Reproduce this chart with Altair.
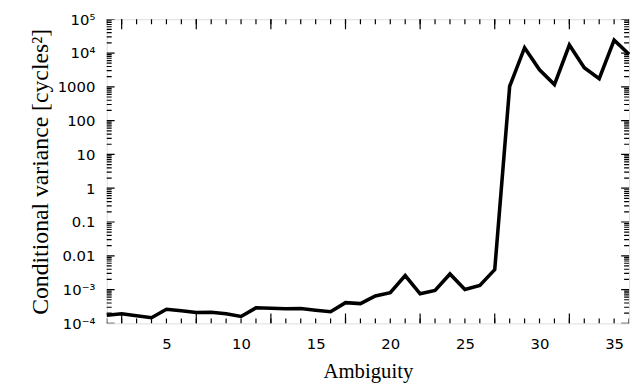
import altair as alt
import pandas as pd

# ---- data ----
ambiguity = list(range(1, 37))
cond_variance = [1.75e-4, 1.92e-4, 1.68e-4, 1.47e-4, 2.62e-4, 2.35e-4, 2.10e-4, 2.14e-4,
                 1.92e-4, 1.60e-4, 2.88e-4, 2.80e-4, 2.69e-4, 2.75e-4, 2.45e-4, 2.20e-4,
                 4.10e-4, 3.85e-4, 6.50e-4, 8.10e-4, 2.60e-3, 7.50e-4, 9.40e-4, 2.90e-3,
                 1.00e-3, 1.32e-3, 3.90e-3, 1040, 14400, 3200, 1170, 17300,
                 3700, 1750, 24000, 9200]

x_label_values = [5, 10, 15, 20, 25, 30, 35]
x_unit_ticks = list(range(1, 37))
x_tall_ticks = [2, 7, 12, 17, 22, 27, 32]

y_major_values = [1e-4, 1e-3, 1e-2, 1e-1, 1, 10, 100, 1000, 1e4, 1e5]
y_major_labels = ["10⁻⁴", "10⁻³", "0.01", "0.1", "1", "10", "100", "1000", "10⁴", "10⁵"]
y_minor_values = [k * 10.0 ** e for e in range(-4, 5) for k in range(2, 10)]

df = pd.DataFrame({"amb": ambiguity, "var": cond_variance})

# tick-mark tables (length = style: doubled because half is clipped away)
x_ticks = pd.DataFrame({
    "amb": x_unit_ticks + x_tall_ticks,
    "len": [10] * len(x_unit_ticks) + [20] * len(x_tall_ticks),
})
y_ticks = pd.DataFrame({
    "var": y_major_values + y_minor_values,
    "len": [16] * len(y_major_values) + [10] * len(y_minor_values),
})

W, H = 529, 308
x_scale = alt.Scale(domain=[1, 36], nice=False, zero=False)
y_scale = alt.Scale(type="log", domain=[1e-4, 1e5], nice=False)

exps = [-4, -3, -2, -1, 0, 1, 2, 3, 4, 5]
label_expr = ""
for e, lab in zip(exps, y_major_labels):
    label_expr += f"round(log(datum.value)/LN10) == {e} ? '{lab}' : "
label_expr += "''"

LABEL_FONT = "DejaVu Sans"
TITLE_FONT = "Liberation Serif"

main = alt.Chart(df).mark_line(color="black", strokeWidth=3.6, strokeJoin="miter").encode(
    x=alt.X("amb:Q", scale=x_scale,
            axis=alt.Axis(orient="bottom", values=x_label_values, ticks=False, tickSize=0,
                          domain=False, grid=False, labelPadding=13,
                          labelFont=LABEL_FONT, labelFontSize=15, labelColor="black",
                          title="Ambiguity", titleFont=TITLE_FONT, titleFontSize=21,
                          titleFontWeight="normal", titleColor="black",
                          titleBaseline="alphabetic", titleY=55)),
    y=alt.Y("var:Q", scale=y_scale,
            axis=alt.Axis(orient="left", values=y_major_values, ticks=False, tickSize=0,
                          domain=False, grid=False, labelPadding=12, labelExpr=label_expr,
                          labelFont=LABEL_FONT, labelFontSize=15, labelColor="black",
                          title="Conditional variance [cycles²]", titleFont=TITLE_FONT,
                          titleFontSize=24, titleFontWeight="normal", titleColor="black",
                          titleBaseline="alphabetic", titleAngle=-90, titleX=-60)),
)

def xtick_layer(edge_px):
    return alt.Chart(x_ticks).mark_tick(orient="vertical", clip=True, color="black",
                                        thickness=1.2, opacity=1).encode(
        x=alt.X("amb:Q", scale=x_scale, axis=None),
        y=alt.value(edge_px),
        size=alt.Size("len:Q", scale=None, legend=None),
    )

def ytick_layer(edge_px):
    return alt.Chart(y_ticks).mark_tick(orient="horizontal", clip=True, color="black",
                                        thickness=1.2, opacity=1).encode(
        y=alt.Y("var:Q", scale=y_scale, axis=None),
        x=alt.value(edge_px),
        size=alt.Size("len:Q", scale=None, legend=None),
    )

chart = alt.layer(
    main, xtick_layer(H), xtick_layer(0), ytick_layer(0), ytick_layer(W)
).resolve_axis(
    x="independent", y="independent"
).properties(
    width=W, height=H,
    padding={"left": 100, "top": 9, "right": 4, "bottom": 58},
    autosize=alt.AutoSizeParams(type="none"),
).configure_view(stroke="black", strokeWidth=1.8).configure(background="white")

chart.save("out.html", embed_options={"renderer": "svg", "actions": False})
